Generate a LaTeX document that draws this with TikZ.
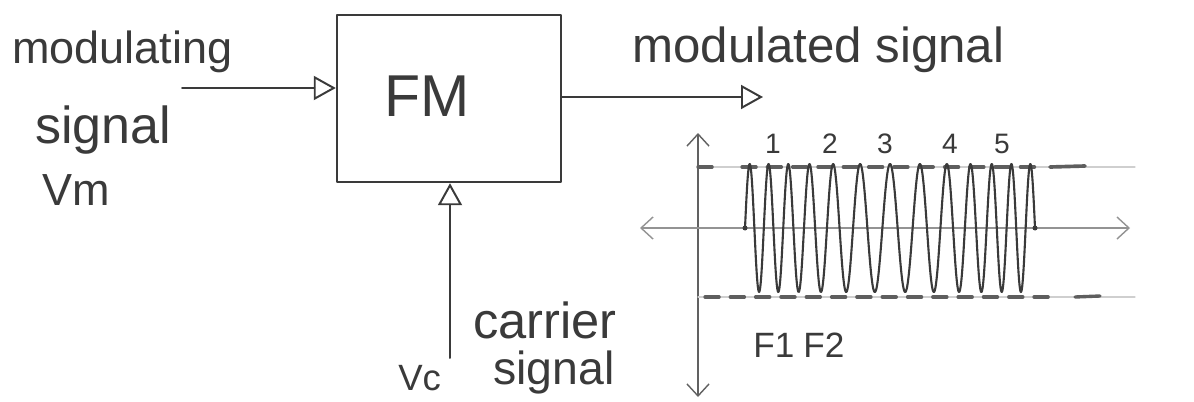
\documentclass[tikz,border=0pt]{standalone}
\usepackage{fontspec}
\setmainfont{Liberation Sans}
\usetikzlibrary{arrows.meta}
\newcommand{\fsz}[1]{\fontsize{#1}{#1}\selectfont}
\definecolor{pencil}{HTML}{3A3A3A}
\definecolor{guide}{HTML}{CFCFCF}
\definecolor{dash}{HTML}{5E5E5E}
\begin{document}
\begin{tikzpicture}[x=0.025cm,y=-0.025cm,line join=round,line cap=round,
  lbl/.style={text=pencil,inner sep=0pt,anchor=base west},
  num/.style={text=pencil,inner sep=0pt,anchor=base,font=\fsz{20}},
  conn/.style={draw=pencil,line width=1.4pt,-{Triangle[open,length=0.55cm,width=0.6cm,line width=1.4pt]}},
  axis/.style={draw=pencil!80,line width=1pt,{Straight Barb[length=0.3cm,width=0.55cm]}-{Straight Barb[length=0.3cm,width=0.55cm]}},
  wave/.style={draw=pencil,line width=1.5pt},
  guideline/.style={draw=guide,line width=0.8pt},
  dashline/.style={draw=dash,line width=2.4pt,dash pattern=on 10pt off 8pt}]
\useasboundingbox[fill=white] (0,0) rectangle (1194,401);

% FM block
\node[draw=pencil,line width=1.7pt,minimum width=5.6cm,minimum height=4.175cm,inner sep=0pt] (fm) at (449,98.5) {};
\node[text=pencil,font=\fsz{42},inner sep=0pt] (fmlabel) at (427,96) {FM};

% input
\node[lbl,font=\fsz{32}] (lmod) at (12,63) {modulating};
\node[lbl,font=\fsz{37}] (lsig) at (35,143) {signal};
\node[lbl,font=\fsz{32}] (lvm) at (42,205) {Vm};
\coordinate (inS) at (182,88);
\draw[conn] (inS) -- (inS -| fm.west);

% output
\node[lbl,font=\fsz{35}] (lout) at (632,62) {modulated signal};
\coordinate (outE) at (763,97);
\draw[conn] (fm.east |- outE) -- (outE);

% carrier
\coordinate (cS) at (450,358);
\draw[conn] (cS) -- (cS |- fm.south);
\node[lbl,font=\fsz{36}] (lcar) at (473,338) {carrier};
\node[lbl,font=\fsz{33}] (lcsig) at (493,384) {signal};
\node[lbl,font=\fsz{26}] (lvc) at (398,390) {Vc};

% graph axes
\coordinate (vT) at (698,133);
\coordinate (vB) at (698,397);
\coordinate (hL) at (640,228);
\coordinate (hR) at (1130,228);
\draw[axis] (vB) -- (vT);
\draw[axis,draw=pencil!55] (hL) -- (hR);

% amplitude guide lines
\coordinate (tL) at (698,167);
\coordinate (tR) at (1135,167);
\coordinate (bL) at (698,297);
\coordinate (bR) at (1135,297);
\draw[guideline] (tL) -- (tR);
\draw[guideline] (bL) -- (bR);
\draw[dashline] (tL) -- ++(24,0);
\draw[dashline] (742,167) -- (1040,167);
\draw[draw=dash,line width=2.6pt] (1050,167) -- (1085,166);
\draw[dashline] (705,297) -- (1050,297);
\draw[draw=dash,line width=2.4pt] (1075,297) -- (1100,296);

% waveform
\coordinate (wS) at (745,228);
\coordinate (wE) at (1035,228);
\draw[wave] plot[domain=0:290,samples=700,smooth]
  ({745+\x},{228-64*sin(\x*15.5172+172*sin(\x*1.24138))});
\fill[pencil] (wS) circle (2.5);
\fill[pencil] (wE) circle (2.5);

% numbers
\node[num] (n1) at (773,153) {1};
\node[num] (n2) at (830,153) {2};
\node[num] (n3) at (885,153) {3};
\node[num] (n4) at (950,153) {4};
\node[num] (n5) at (1002,153) {5};
\node[lbl,font=\fsz{25}] (f1) at (753,357) {F1};
\node[lbl,font=\fsz{25}] (f2) at (803,357) {F2};
\end{tikzpicture}
\end{document}
